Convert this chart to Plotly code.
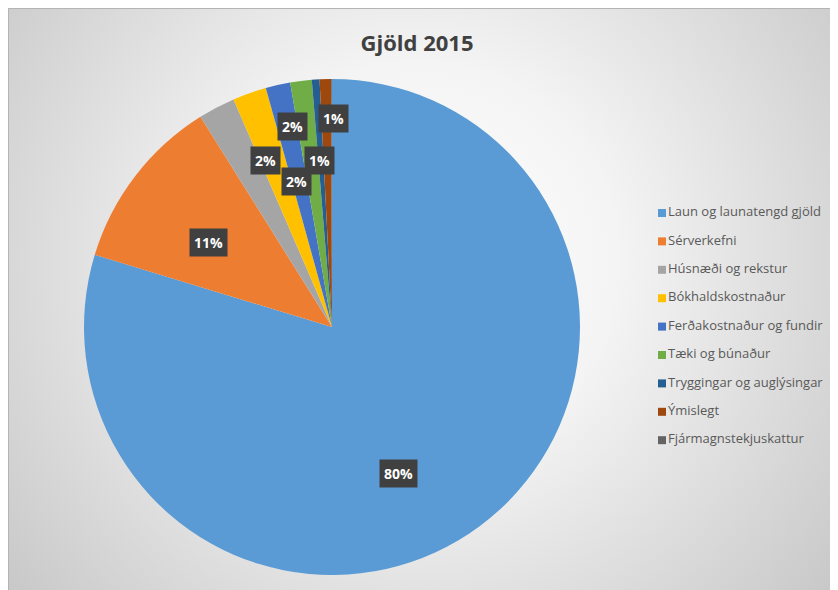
import base64
import math
import plotly.graph_objects as go

OFF = 8  # page body margin, the reference shot includes it
W, H = 838 - OFF, 590 - OFF

# data
labels = ['Laun og launatengd gjöld', 'Sérverkefni', 'Húsnæði og rekstur', 'Bókhaldskostnaður',
          'Ferðakostnaður og fundir', 'Tæki og búnaður', 'Tryggingar og auglýsingar', 'Ýmislegt',
          'Fjármagnstekjuskattur']
values = [79.7, 11.4, 2.4, 2.2, 1.6, 1.4, 0.5, 0.75, 0.05]
colors = ['#5B9BD5', '#ED7D31', '#A5A5A5', '#FFC000', '#4472C4', '#70AD47', '#255E91', '#9E480E', '#636363']
title = 'Gjöld 2015'

# where excel "best fit" dropped the label boxes: (deg clockwise from 12 o'clock, fraction of radius)
label_spots = [(157.6, 0.70), (300.7, 0.67), (335.5, 0.80), (349.7, 0.88), (347.3, 0.66),
               (355.9, 0.73), None, (0.5, 0.90), None]

# pie geometry in px (page coords minus body margin)
cx, cy, R = 332 - OFF, 327 - OFF, 248

# excel-ish background: radial grey gradient, border only shows top and left
svg = f'''<svg xmlns="http://www.w3.org/2000/svg" width="{W}" height="{H}">
<defs><radialGradient id="g" gradientUnits="userSpaceOnUse" cx="412" cy="252" r="560">
<stop offset="0" stop-color="#ffffff"/><stop offset="0.35" stop-color="#f4f4f4"/>
<stop offset="1" stop-color="#c4c4c4"/></radialGradient></defs>
<rect x="0" y="0" width="{W}" height="{H}" fill="url(#g)"/>
<path d="M0.5 {H} L0.5 0.5 L{W} 0.5" fill="none" stroke="#b4b4b4" stroke-width="1"/>
</svg>'''
bg = 'data:image/svg+xml;base64,' + base64.b64encode(svg.encode('utf-8')).decode()

fig = go.Figure()

fig.add_trace(go.Pie(
    labels=labels, values=values, sort=False, direction='clockwise', rotation=0,
    marker=dict(colors=colors, line=dict(width=0)),
    textinfo='none', hoverinfo='label+percent', showlegend=False,
    domain=dict(x=[(cx - R) / W, (cx + R) / W], y=[1 - (cy + R) / H, 1 - (cy - R) / H]),
))

# legend drawn as a scatter so the item spacing matches
step, top = 28.4, 213 - OFF
sw_x = 662 - OFF
fig.add_trace(go.Scatter(
    x=[0] * len(labels), y=list(range(len(labels))),
    mode='markers+text', text=labels, textposition='middle right',
    marker=dict(symbol='square', size=8, color=colors),
    textfont=dict(family='Open Sans', size=13, color='#595959'),
    hoverinfo='skip', showlegend=False,
))

total = sum(values)
annotations = []
for v, spot in zip(values, label_spots):
    if spot is None:
        continue
    a, f = spot
    px = cx + f * R * math.sin(math.radians(a))
    py = cy - f * R * math.cos(math.radians(a))
    annotations.append(dict(
        x=px / W, y=1 - py / H, xref='paper', yref='paper', showarrow=False,
        text='<b>%.0f%%</b>' % (v / total * 100),
        font=dict(family='Open Sans', size=14, color='white'),
        bgcolor='#404040', borderpad=4,
    ))

fig.update_layout(
    width=W, height=H, margin=dict(l=0, r=0, t=0, b=0),
    paper_bgcolor='white', plot_bgcolor='rgba(0,0,0,0)',
    title=dict(text='<b>' + title + '</b>', x=(417 - OFF) / W, y=1 - (43 - OFF) / H,
               xanchor='center', yanchor='middle',
               font=dict(family='Open Sans', size=22, color='#404040')),
    xaxis=dict(range=[-sw_x, W - sw_x], visible=False, fixedrange=True),
    yaxis=dict(range=[(H - top) / step, -top / step], visible=False, fixedrange=True),
    annotations=annotations,
    images=[dict(source=bg, xref='paper', yref='paper', x=0, y=1, sizex=1, sizey=1,
                 sizing='stretch', layer='below', xanchor='left', yanchor='top')],
)

fig.write_html('out.html')
